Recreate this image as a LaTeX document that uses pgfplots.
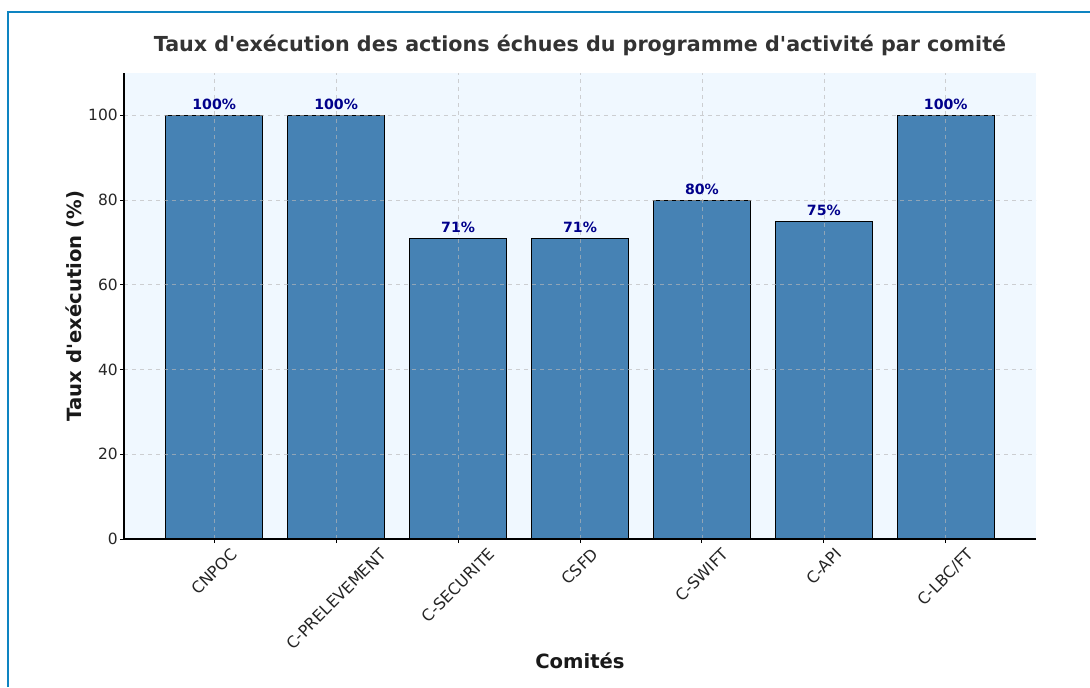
\documentclass[border=0pt]{standalone}
\usepackage{pgfplots}
\pgfplotsset{compat=1.18}
\usepackage{fontspec}
\setmainfont{DejaVu Sans}[Ligatures=TeXOff]
\definecolor{aliceblue}{RGB}{240,248,255}
\definecolor{steelblue}{RGB}{70,130,180}
\definecolor{darkbluelab}{RGB}{0,0,139}
\definecolor{framecol}{RGB}{14,132,193}
\definecolor{txt}{RGB}{38,38,38}
\begin{document}
\begin{tikzpicture}
\useasboundingbox (0,0) rectangle (817.5pt,515.25pt);
\fill[white] (0,0) rectangle (817.5pt,515.25pt);
\draw[framecol, line width=1.1pt] (6pt,0) -- (6pt,506.25pt) -- (817.5pt,506.25pt);
\begin{axis}[
  at={(93pt,111pt)}, anchor=south west,
  width=684pt, height=349.5pt, scale only axis,
  ybar, bar width=0.8,
  xmin=-0.74, xmax=6.74, ymin=0, ymax=110,
  xtick={0,1,2,3,4,5,6},
  xticklabels={\rotatebox{45}{CNPOC},\rotatebox{45}{C-PRELEVEMENT},\rotatebox{45}{C-SECURITE},\rotatebox{45}{CSFD},\rotatebox{45}{C-SWIFT},\rotatebox{45}{C-API},\rotatebox{45}{C-LBC/FT}},
  ytick={0,20,40,60,80,100},
  yticklabels={0,20,40,60,80,100},
  axis x line*=bottom, axis y line*=left,
  axis line style={-, black, line width=0.8pt},
  axis background/.style={fill=aliceblue},
  tick align=outside, major tick length=3pt,
  tick style={black, line width=0.7pt},
  xmajorgrids, ymajorgrids,
  grid style={dashed, gray!55, line width=0.5pt, opacity=0.65},
  axis on top,
  /pgf/number format/assume math mode=true,
  xticklabel style={font=\fontsize{12}{14}\selectfont, text=txt, anchor=north, inner sep=0pt, yshift=-3pt},
  yticklabel style={font=\fontsize{11.6}{14}\selectfont, text=txt, anchor=east, inner sep=0pt, xshift=-1.5pt},
  nodes near coords={\pgfmathprintnumber{\pgfplotspointmeta}\%},
  every node near coord/.append style={font=\fontsize{10.6}{12}\selectfont\bfseries, text=darkbluelab, anchor=south, inner sep=0pt, yshift=3.5pt},
]
\addplot[fill=steelblue, draw=black, line width=0.75pt] coordinates {
(0,100) (1,100) (2,71) (3,71) (4,80) (5,75) (6,100)};
\end{axis}
\node[anchor=base, font=\fontsize{15.5}{18}\selectfont\bfseries, text=black!80] at (435pt,476.5pt) {Taux d'exécution des actions échues du programme d'activité par comité};
\node[anchor=base, font=\fontsize{14.7}{17}\selectfont\bfseries, text=black!90] at (435pt,14.25pt) {Comités};
\node[anchor=base, rotate=90, font=\fontsize{14.7}{17}\selectfont\bfseries, text=black!90] at (61.3pt,285.75pt) {Taux d'exécution (\%)};
\end{tikzpicture}
\end{document}
